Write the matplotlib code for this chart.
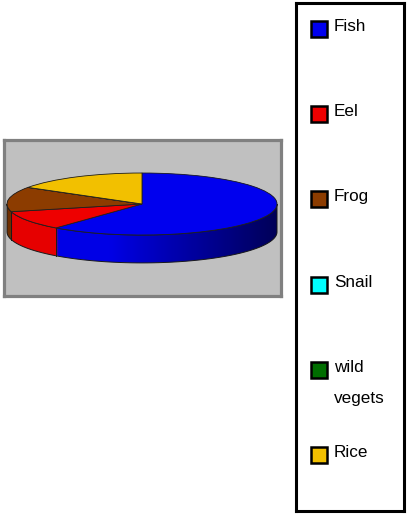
import numpy as np
import matplotlib.pyplot as plt
from matplotlib.patches import Polygon

# Data
labels = ["Fish", "Eel", "Frog", "Snail", "wild\nvegets", "Rice"]
values = [61, 10, 13, 0, 0, 16]
colors = ["#0000ee", "#ee0000", "#8c3c00", "#00ffff", "#006e00", "#f2c000"]
side_colors = ["#0000e6", "#e60000", "#6e2e00", "#00cccc", "#005000", "#c89a00"]

plt.rcParams["font.family"] = ["Liberation Sans", "DejaVu Sans"]

W, H = 408, 515
fig = plt.figure(figsize=(W / 100, H / 100), dpi=100)


def px_axes(x0, y0, x1, y1):
    return fig.add_axes([x0 / W, 1 - y1 / H, (x1 - x0) / W, (y1 - y0) / H])


# --- 3D-looking pie ---
ax = px_axes(4, 140, 281, 296)
depth = 0.9

# side wall: stacked pies shifted down
for t in np.linspace(depth, 0.0, 45):
    ax.pie(values, colors=side_colors, center=(0, -t), startangle=90,
           counterclock=False, wedgeprops=dict(linewidth=0))

# shading on the side wall
th = np.linspace(np.pi, 2 * np.pi, 120)
side_pts = np.vstack([np.column_stack([np.cos(th), np.sin(th)]),
                      np.column_stack([np.cos(th[::-1]), np.sin(th[::-1]) - depth])])
side_patch = Polygon(side_pts, closed=True, facecolor="none",
                     edgecolor="#1a1a1a", linewidth=0.7, zorder=3)
ax.add_patch(side_patch)
xg = np.linspace(-1, 1, 256)
grad = np.zeros((2, 256, 4))
grad[..., 3] = np.clip((xg + 0.25) / 1.25, 0, 1) * 0.62
img = ax.imshow(grad, extent=(-1, 1, -depth - 1.05, 0.05), aspect="auto", zorder=2)
img.set_clip_path(side_patch)

# vertical edges between slices on the front side
ang = np.deg2rad(90 - 360 * np.cumsum(values) / np.sum(values))
for a in ang:
    if np.sin(a) < -0.05:
        ax.plot([np.cos(a)] * 2, [np.sin(a), np.sin(a) - depth],
                color="#1a1a1a", linewidth=0.7, zorder=3)

# top face
ax.pie(values, colors=colors, startangle=90, counterclock=False,
       wedgeprops=dict(edgecolor="#202020", linewidth=0.6, zorder=4))

ax.set_aspect("auto")
ax.set_xlim(-138 / 135, 139 / 135)
ax.set_ylim(-92 / 31, 64 / 31)
ax.set_frame_on(True)
ax.set_facecolor("#c0c0c0")
ax.set_xticks([])
ax.set_yticks([])
for s in ax.spines.values():
    s.set_color("#808080")
    s.set_linewidth(2.3)

# --- legend box ---
lg = px_axes(296, 3, 404, 511)
lg.set_xlim(296, 404)
lg.set_ylim(511, 3)
lg.set_xticks([])
lg.set_yticks([])
for s in lg.spines.values():
    s.set_color("black")
    s.set_linewidth(2.2)

for i, (lab, col) in enumerate(zip(labels, colors)):
    y = 29 + 85.2 * i
    lg.plot(319, y, marker="s", ms=11, mfc=col, mec="black", mew=1.8)
    for j, line in enumerate(lab.split("\n")):
        lg.text(334, y + 2 + 31 * j, line, fontsize=12.3, va="baseline",
                ha="left", color="black")

fig.savefig("out.png", dpi=100)
